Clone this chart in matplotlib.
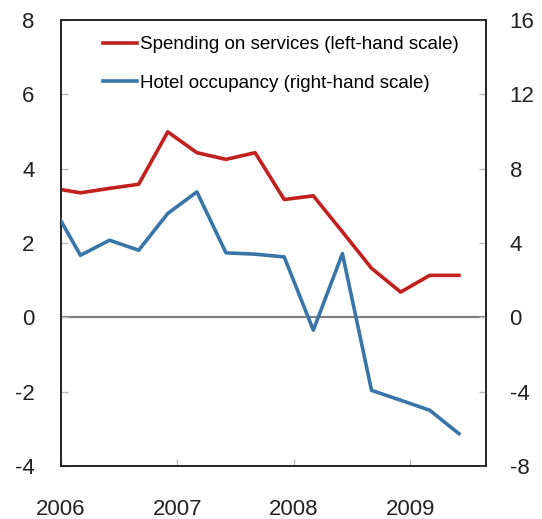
import matplotlib.pyplot as plt

plt.rcParams["font.family"] = ["Liberation Sans", "DejaVu Sans"]
plt.rcParams["axes.unicode_minus"] = False

# quarterly observations (Dec 2005 .. Jun 2009), x in fractional years
datas = [2005.917, 2006.167, 2006.417, 2006.667, 2006.917,
         2007.167, 2007.417, 2007.667, 2007.917,
         2008.167, 2008.417, 2008.667, 2008.917,
         2009.167, 2009.417]

# spending on services, left-hand scale
servicos = [3.48, 3.35, 3.47, 3.58, 4.99,
            4.43, 4.25, 4.43, 3.17,
            3.27, 2.30, 1.32, 0.68,
            1.13, 1.13]

# hotel occupancy, right-hand scale
hotel = [6.1, 3.34, 4.15, 3.61, 5.59,
         6.75, 3.47, 3.40, 3.25,
         -0.69, 3.43, -3.93, -4.46,
         -5.0, -6.26]

anos = [2006, 2007, 2008, 2009]
rotulos_anos = ["2006", "2007", "2008", "2009"]

vermelho = "#c0201e"
azul = "#3a75a8"

fig = plt.figure(figsize=(5.42, 5.19), dpi=100)
ax = fig.add_axes([61 / 542, 1 - 466 / 519, 425 / 542, 446 / 519])
ax2 = ax.twinx()

ax.axhline(0, color="#808080", lw=1.6, zorder=1)
l1, = ax.plot(datas, servicos, color=vermelho, lw=2.6, zorder=3,
              label="Spending on services (left-hand scale)")
l2, = ax2.plot(datas, hotel, color=azul, lw=2.6, zorder=3,
               label="Hotel occupancy (right-hand scale)")

ax.set_xlim(2006.0, 2009.65)
ax.set_ylim(-4, 8)
ax2.set_ylim(-8, 16)
ax.set_yticks(range(-4, 9, 2))
ax2.set_yticks(range(-8, 17, 4))
ax.set_xticks(anos)
ax.set_xticklabels(rotulos_anos)

for a in (ax, ax2):
    for s in a.spines.values():
        s.set_linewidth(1.2)
        s.set_color("#222222")

ax.tick_params(axis="y", direction="in", length=5, width=1, color="#bbbbbb",
               labelsize=16, pad=19, labelcolor="#222222")
ax2.tick_params(axis="y", direction="in", length=5, width=1, color="#bbbbbb",
                labelsize=16, pad=17, labelcolor="#222222")
ax.tick_params(axis="x", direction="in", length=5, width=1, color="#bbbbbb",
               labelsize=16, pad=24, labelcolor="#222222")

fig.legend(handles=[l1, l2], loc="upper left",
           bbox_to_anchor=(103 / 542, 1 - 36 / 519),
           frameon=False, fontsize=13.5, handlelength=1.8, handletextpad=0.15,
           borderpad=0, borderaxespad=0, labelspacing=1.15)

plt.savefig("out.png", dpi=100)
